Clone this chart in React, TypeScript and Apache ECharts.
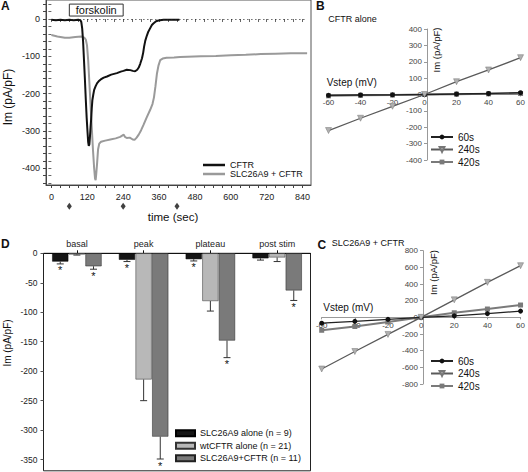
import React, { useEffect, useRef } from 'react';
import * as echarts from 'echarts';

const FONT = '"Liberation Sans", Arial, sans-serif';

// ---------- Panel A: current traces (time s, Im pA/pF) ----------
const CFTR_TRACE: [number, number][] = [
  [0, -2], [15, -3], [30, -2], [45, -3], [60, -2], [75, -3], [90, -2], [97, -3], [100, -8], [103, -25],
  [106, -60], [109, -110], [112, -160], [115, -215], [118, -265], [121, -305], [123, -330], [125, -340],
  [127, -336], [129, -315], [131, -290], [133, -268], [135, -240], [137, -218], [140, -203], [143, -190],
  [148, -180], [153, -172], [158, -167], [165, -162], [175, -157], [186, -154], [200, -149], [219, -145],
  [232, -141], [241, -139], [252, -136], [264, -137], [272, -139], [280, -140], [287, -136], [292, -130],
  [297, -120], [303, -105], [307, -90], [310, -74], [314, -58], [319, -45], [324, -34], [330, -25],
  [336, -16], [341, -12], [350, -6], [358, -4], [375, -2], [400, -2], [428, -2],
];
const SLC_CFTR_TRACE: [number, number][] = [
  [0, -43], [10, -45], [20, -47], [30, -48], [45, -50], [60, -50], [80, -48], [100, -47], [110, -50],
  [115, -55], [119, -70], [123, -110], [127, -170], [131, -230], [135, -290], [139, -350], [143, -400],
  [146, -428], [148, -432], [150, -415], [153, -385], [156, -350], [160, -334], [166, -329], [180, -326],
  [197, -323], [215, -320], [230, -316], [238, -312], [242, -310], [246, -316], [252, -319], [262, -318],
  [272, -323], [278, -324], [285, -318], [292, -310], [300, -298], [308, -284], [318, -265], [330, -244],
  [338, -228], [343, -210], [348, -180], [353, -146], [358, -125], [364, -110], [372, -106], [385, -104],
  [410, -103], [430, -102], [455, -101], [500, -100], [550, -99], [600, -97], [650, -96], [700, -94],
  [750, -93], [800, -92], [855, -92],
];
const FORSKOLIN = [60, 240];
const SAMPLE_TIMES = [60, 240, 420];
const A_X_TICKS = [0, 30, 60, 90, 120, 150, 180, 210, 240, 270, 300, 330, 360, 390, 420, 450, 480, 510, 540, 570, 600, 630, 660, 690, 720, 750, 780, 810, 840];
const A_X_LABELS = [0, 120, 240, 360, 480, 600, 720, 840];
const A_Y_TICKS = [-440, -420, -400, -380, -360, -340, -320, -300, -280, -260, -240, -220, -200, -180, -160, -140, -120, -100, -80, -60, -40, -20, 0, 20, 40];
const A_Y_LABELS = [-400, -300, -200, -100, 0];

// ---------- Panels B and C: I-V relations ----------
const VSTEP = [-60, -40, -20, 0, 20, 40, 60];
const B_60S = [-5, -3, -2, 0, 3, 6, 11];
const B_240S = [-220, -145, -72, 0, 78, 150, 225];
const B_420S = [-8, -5, -3, 0, 2, 4, 6];
const C_60S = [-70, -48, -24, 0, 18, 45, 75];
const C_240S = [-620, -410, -205, 0, 210, 420, 620];
const C_420S = [-155, -110, -55, 0, 55, 100, 148];

// ---------- Panel D: bar summary ----------
const D_CATS = ['basal', 'peak', 'plateau', 'post stim'];
const D_SLC_ALONE = [-14, -11, -10, -8.5];
const D_SLC_ALONE_ERR = [-18, -14, -13, -11.5];
const D_SLC_ALONE_SIG = [1, 1, 1, 0];
const D_WT = [-2, -214, -81, -7];
const D_WT_ERR = [-3, -250, -98, -14];
const D_WT_SIG = [0, 0, 0, 0];
const D_SLC_CFTR = [-22, -311, -148, -63];
const D_SLC_CFTR_ERR = [-27, -349, -177, -80];
const D_SLC_CFTR_SIG = [1, 1, 1, 1];
const D_Y_LABELS = [-350, -300, -250, -200, -150, -100, -50, 0];

const CAT_GAP = 0.26;
const BAR_GAP = 0.03;

const GRID_B = { left: 328.5, top: 29, width: 197, height: 131 };
const GRID_C = { left: 321.7, top: 250.7, width: 202.6, height: 133.3 };

export default function App() {
  const ref = useRef<HTMLDivElement>(null);
  useEffect(() => {
    if (!ref.current) return;
    const chart = echarts.init(ref.current, undefined, { renderer: 'svg' });
    const pair = (xs: number[], ys: number[]) => xs.map((x, i) => [x, ys[i]]);

    // symmetric ranges: the crossing axes sit in the middle of the grid
    const ivAxisX = (grid: number, g: any) => ({
      type: 'value', gridIndex: grid, min: -60, max: 60, interval: 20,
      offset: -g.height / 2,
      axisLine: { onZero: false, lineStyle: { color: '#999', width: 1 } },
      axisTick: { show: true, length: 2, lineStyle: { color: '#999' } },
      axisLabel: { fontSize: 8, color: '#444', fontFamily: FONT, margin: 4 },
      splitLine: { show: false },
    });
    const ivAxisY = (grid: number, g: any, lim: number, step: number) => ({
      type: 'value', gridIndex: grid, min: -lim, max: lim, interval: step,
      offset: -g.width / 2,
      axisLine: { onZero: false, lineStyle: { color: '#999', width: 1 } },
      axisTick: { show: true, length: 3, lineStyle: { color: '#999' } },
      axisLabel: { fontSize: 8, color: '#444', fontFamily: FONT, margin: 5 },
      splitLine: { show: false },
    });

    const ivSeries = (axisIdx: number, d60: number[], d240: number[], d420: number[]) => [
      {
        name: '420s', type: 'line', xAxisIndex: axisIdx, yAxisIndex: axisIdx, data: pair(VSTEP, d420),
        symbol: 'rect', symbolSize: 5, itemStyle: { color: '#7a7a7a' },
        lineStyle: { color: '#7a7a7a', width: 2 }, z: 3,
      },
      {
        name: '60s', type: 'line', xAxisIndex: axisIdx, yAxisIndex: axisIdx, data: pair(VSTEP, d60),
        symbol: 'circle', symbolSize: 5, itemStyle: { color: '#111' },
        lineStyle: { color: '#222', width: 1.3 }, z: 4,
      },
      {
        name: '240s', type: 'line', xAxisIndex: axisIdx, yAxisIndex: axisIdx, data: pair(VSTEP, d240),
        symbol: 'triangle', symbolRotate: 180, symbolSize: 6,
        itemStyle: { color: '#b0b0b0', borderColor: '#777', borderWidth: 0.5 },
        lineStyle: { color: '#5a5a5a', width: 1.3 }, z: 5,
      },
    ];

    const errSeries = (g: number, vals: number[], errs: number[], sig: number[]) => ({
      type: 'custom', xAxisIndex: 4, yAxisIndex: 4, silent: true, z: 6,
      data: D_CATS.map((_, i) => [i, vals[i], errs[i], sig[i]]),
      encode: { x: 0, y: [1, 2] },
      renderItem: (_p: any, api: any) => {
        const i = api.value(0);
        const top = api.coord([i, api.value(1)]);
        const end = api.coord([i, api.value(2)]);
        const band = api.size([1, 0])[0];
        const bw = (band * (1 - CAT_GAP)) / (3 + 2 * BAR_GAP);
        const x = top[0] + (g - 1) * bw * (1 + BAR_GAP);
        const children: any[] = [
          { type: 'line', shape: { x1: x, y1: top[1], x2: x, y2: end[1] }, style: { stroke: '#333', lineWidth: 1 } },
          { type: 'line', shape: { x1: x - 3.5, y1: end[1], x2: x + 3.5, y2: end[1] }, style: { stroke: '#333', lineWidth: 1 } },
        ];
        if (api.value(3)) {
          children.push({
            type: 'text', x, y: end[1] + 1,
            style: { text: '*', fontSize: 11, fontFamily: FONT, fill: '#111', align: 'center', verticalAlign: 'top' },
          });
        }
        return { type: 'group', children };
      },
    });

    const txt = (text: string, x: number, y: number, size: number, extra: any = {}) => ({
      type: 'text', x, y, silent: true, ...extra,
      style: { text, fontSize: size, fontFamily: FONT, fill: '#111', align: 'left', verticalAlign: 'middle', ...(extra.style || {}) },
    });

    const ivLegend = (top: number) => ({
      data: ['60s', '240s', '420s'], orient: 'vertical', left: 430, top, padding: 0,
      itemWidth: 22, itemHeight: 6, itemGap: 0.5, selectedMode: false,
      textStyle: { fontSize: 10, fontFamily: FONT, color: '#111', lineHeight: 12 },
    });

    const option: any = {
      animation: false,
      backgroundColor: '#fff',
      grid: [
        { left: 46, top: 0, width: 265, height: 185, show: true, borderColor: '#555', borderWidth: 1, backgroundColor: 'transparent' },
        GRID_B,
        GRID_C,
        { left: 43.5, top: 253.3, width: 267, height: 217.5, show: true, borderColor: '#222', borderWidth: 1, backgroundColor: 'transparent' },
      ],
      xAxis: [
        {
          type: 'value', gridIndex: 0, min: -18, max: 868,
          axisLine: { onZero: false, lineStyle: { color: '#444' } },
          axisTick: { show: true, length: 3, customValues: A_X_TICKS, lineStyle: { color: '#444' } },
          axisLabel: { customValues: A_X_LABELS, fontSize: 9, color: '#222', fontFamily: FONT, margin: 7 },
          splitLine: { show: false },
        },
        {
          type: 'value', gridIndex: 0, position: 'top', min: -18, max: 868,
          axisLine: { show: false },
          axisTick: { show: true, inside: true, length: 3, customValues: A_X_TICKS, lineStyle: { color: '#666' } },
          axisLabel: { show: false }, splitLine: { show: false },
        },
        ivAxisX(1, GRID_B),
        ivAxisX(2, GRID_C),
        {
          type: 'category', gridIndex: 3, position: 'top', data: D_CATS,
          axisLine: { lineStyle: { color: '#111' } },
          axisTick: { show: true, alignWithLabel: true, length: 3, lineStyle: { color: '#111' } },
          axisLabel: { fontSize: 9, color: '#222', fontFamily: FONT, margin: 5 },
          splitLine: { show: false },
        },
      ],
      yAxis: [
        {
          type: 'value', gridIndex: 0, min: -445, max: 51,
          axisLine: { onZero: false, lineStyle: { color: '#444' } },
          axisTick: { show: true, length: 3, customValues: A_Y_TICKS, lineStyle: { color: '#444' } },
          axisLabel: { customValues: A_Y_LABELS, fontSize: 9, color: '#222', fontFamily: FONT, margin: 6 },
          splitLine: { show: false },
        },
        {
          type: 'value', gridIndex: 0, position: 'right', min: -445, max: 51,
          axisLine: { show: false },
          axisTick: { show: true, inside: true, length: 3, customValues: A_Y_TICKS, lineStyle: { color: '#666' } },
          axisLabel: { show: false }, splitLine: { show: false },
        },
        ivAxisY(1, GRID_B, 400, 100),
        ivAxisY(2, GRID_C, 800, 200),
        {
          type: 'value', gridIndex: 3, min: -369, max: 0,
          axisLine: { onZero: false, lineStyle: { color: '#aaa', width: 2 } },
          axisTick: { show: true, length: 3, customValues: D_Y_LABELS, lineStyle: { color: '#555' } },
          axisLabel: { customValues: D_Y_LABELS, fontSize: 8.5, color: '#222', fontFamily: FONT, margin: 6 },
          splitLine: { show: false },
        },
      ],
      legend: [
        {
          data: ['CFTR', 'SLC26A9 + CFTR'], orient: 'vertical', left: 203, top: 160.5, padding: 0,
          icon: 'rect', itemWidth: 22, itemHeight: 2.5, itemGap: 0, selectedMode: false,
          textStyle: { fontSize: 9, fontFamily: FONT, color: '#111', lineHeight: 8.5 },
        },
        ivLegend(131),
        ivLegend(355),
        {
          data: ['SLC26A9 alone (n = 9)', 'wtCFTR alone (n = 21)', 'SLC26A9+CFTR (n = 11)'],
          orient: 'vertical', left: 175, top: 427.8, padding: 0, icon: 'rect',
          itemWidth: 19, itemHeight: 6, itemGap: 1.5, selectedMode: false,
          textStyle: { fontSize: 9, fontFamily: FONT, color: '#111', lineHeight: 11 },
        },
      ],
      series: [
        {
          name: 'SLC26A9 + CFTR', type: 'line', xAxisIndex: 0, yAxisIndex: 0, data: SLC_CFTR_TRACE,
          symbol: 'none', color: '#9a9a9a', lineStyle: { color: '#9a9a9a', width: 2 }, z: 3,
        },
        {
          name: 'CFTR', type: 'line', xAxisIndex: 0, yAxisIndex: 0, data: CFTR_TRACE,
          symbol: 'none', color: '#111', lineStyle: { color: '#111', width: 2 }, z: 4,
          markLine: {
            silent: true, symbol: 'none', label: { show: false },
            lineStyle: { color: '#222', type: [1, 3], width: 1 },
            data: [[{ coord: [0, 0] }, { coord: [855, 0] }]],
          },
          markArea: {
            silent: true,
            itemStyle: { color: '#fff', opacity: 1, borderColor: '#333', borderWidth: 1 },
            label: { show: true, position: 'inside', fontSize: 11, fontFamily: FONT, color: '#111' },
            data: [[{ name: 'forskolin', coord: [FORSKOLIN[0], 8] }, { coord: [FORSKOLIN[1], 40] }]],
          },
        },
        {
          type: 'scatter', xAxisIndex: 0, yAxisIndex: 0, clip: false, silent: true,
          data: SAMPLE_TIMES.map((t) => [t, -502]), symbol: 'diamond', symbolSize: [5, 7],
          itemStyle: { color: '#111' },
        },
        ...ivSeries(2, B_60S, B_240S, B_420S),
        ...ivSeries(3, C_60S, C_240S, C_420S),
        {
          name: 'SLC26A9 alone (n = 9)', type: 'bar', xAxisIndex: 4, yAxisIndex: 4, data: D_SLC_ALONE,
          barGap: `${BAR_GAP * 100}%`, barCategoryGap: `${CAT_GAP * 100}%`,
          itemStyle: { color: '#151515', borderColor: '#000', borderWidth: 0.5 },
        },
        {
          name: 'wtCFTR alone (n = 21)', type: 'bar', xAxisIndex: 4, yAxisIndex: 4, data: D_WT,
          barGap: `${BAR_GAP * 100}%`, barCategoryGap: `${CAT_GAP * 100}%`,
          itemStyle: { color: '#b8b8b8', borderColor: '#333', borderWidth: 0.5 },
        },
        {
          name: 'SLC26A9+CFTR (n = 11)', type: 'bar', xAxisIndex: 4, yAxisIndex: 4, data: D_SLC_CFTR,
          barGap: `${BAR_GAP * 100}%`, barCategoryGap: `${CAT_GAP * 100}%`,
          itemStyle: { color: '#7a7a7a', borderColor: '#222', borderWidth: 0.5 },
        },
        errSeries(0, D_SLC_ALONE, D_SLC_ALONE_ERR, D_SLC_ALONE_SIG),
        errSeries(1, D_WT, D_WT_ERR, D_WT_SIG),
        errSeries(2, D_SLC_CFTR, D_SLC_CFTR_ERR, D_SLC_CFTR_SIG),
      ],
      graphic: [
        txt('A', 1, 6, 12, { style: { fontWeight: 'bold' } }),
        txt('B', 316, 5.5, 12, { style: { fontWeight: 'bold' } }),
        txt('C', 317.5, 244.5, 12, { style: { fontWeight: 'bold' } }),
        txt('D', 1, 244, 12, { style: { fontWeight: 'bold' } }),
        txt('Im (pA/pF)', 8, 97, 12, { rotation: Math.PI / 2, style: { align: 'center' } }),
        txt('time (sec)', 173, 217, 11.5, { style: { align: 'center' } }),
        txt('CFTR alone', 328.3, 19, 9),
        txt('Vstep (mV)', 326.7, 82.7, 10),
        txt('Im (pA/pF)', 436.7, 50, 9.5, { rotation: Math.PI / 2, style: { align: 'center' } }),
        txt('SLC26A9 + CFTR', 331.7, 242.7, 9),
        txt('Vstep (mV)', 323.3, 307.5, 10),
        txt('Im (pA/pF)', 433.3, 272.5, 9.5, { rotation: Math.PI / 2, style: { align: 'center' } }),
        txt('Im (pA/pF)', 7, 343, 10, { rotation: Math.PI / 2, style: { align: 'center' } }),
      ],
    };
    chart.setOption(option);
    return () => chart.dispose();
  }, []);
  return (
    <div
      ref={ref}
      style={{ position: 'absolute', left: 0, top: 0, width: 528, height: 472, background: '#fff' }}
    />
  );
}
